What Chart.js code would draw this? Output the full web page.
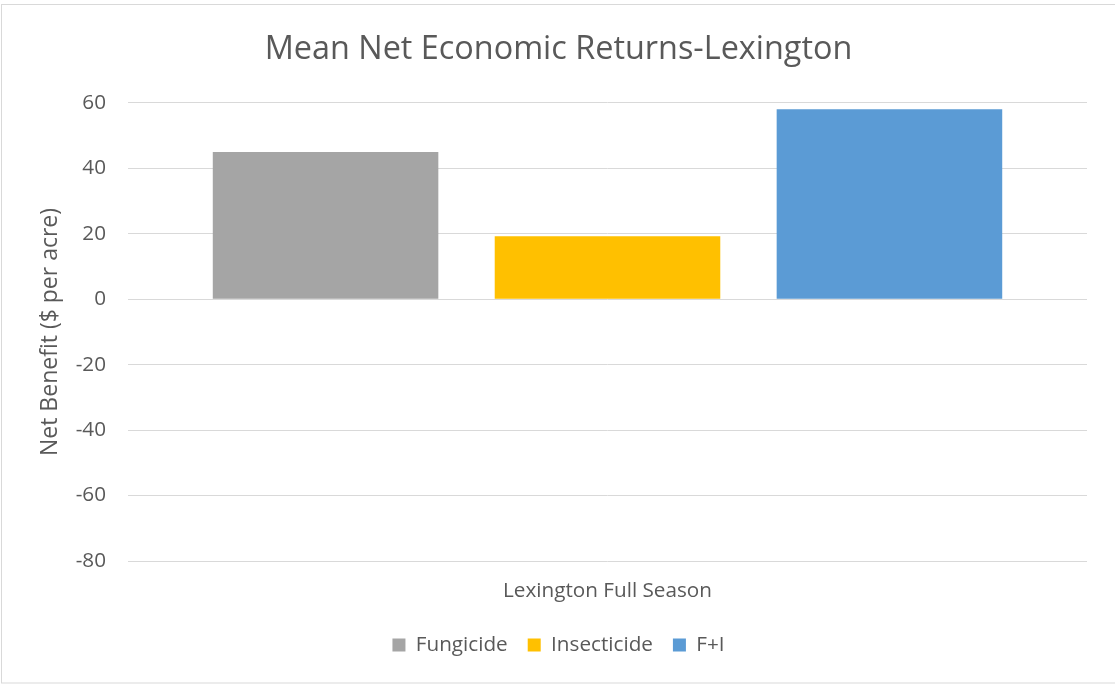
<!DOCTYPE html>
<html>
<head>
<meta charset="utf-8">
<script src="https://cdn.jsdelivr.net/npm/chart.js@4.4.1/dist/chart.umd.min.js"></script>
<style>
  html, body { margin: 0; padding: 0; background: #ffffff; }
  #wrap { position: relative; width: 1115px; height: 684px; }
  canvas { display: block; }
</style>
</head>
<body>
<div id="wrap"><canvas id="c" width="1115" height="684"></canvas></div>
<script>
const chartTitle = "Mean Net Economic Returns-Lexington";
const yAxisTitle = "Net Benefit ($ per acre)";
const categories = ["Lexington Full Season"];
const seriesNames = ["Fungicide", "Insecticide", "F+I"];
const fungicide = [45];
const insecticide = [19.3];
const fPlusI = [58.1];
const seriesColors = ["#A5A5A5", "#FFC000", "#5B9BD5"];
const yMin = -80, yMax = 60, yStep = 20;

const textColor = "#595959";
const gridColor = "#D9D9D9";
const fam = "'Open Sans', 'Noto Sans', sans-serif";

const borderPlugin = {
  id: 'outerBorder',
  beforeDraw(chart) {
    const ctx = chart.ctx;
    ctx.save();
    ctx.fillStyle = '#ffffff';
    ctx.fillRect(0, 0, chart.width, chart.height);
    ctx.strokeStyle = gridColor;
    ctx.lineWidth = 1;
    ctx.strokeRect(1.5, 4.5, 1120, 678.5);
    ctx.restore();
  }
};

new Chart(document.getElementById('c'), {
  type: 'bar',
  data: {
    labels: categories,
    datasets: [
      { label: seriesNames[0], data: fungicide, backgroundColor: seriesColors[0], borderWidth: 0 },
      { label: seriesNames[1], data: insecticide, backgroundColor: seriesColors[1], borderWidth: 0 },
      { label: seriesNames[2], data: fPlusI, backgroundColor: seriesColors[2], borderWidth: 0 }
    ]
  },
  options: {
    responsive: false,
    animation: false,
    devicePixelRatio: 1,
    categoryPercentage: 0.882,
    barPercentage: 0.8,
    layout: { padding: { left: 30, right: 28, top: 0, bottom: 18.7 } },
    plugins: {
      tooltip: { enabled: false },
      title: {
        display: true,
        text: chartTitle,
        color: textColor,
        font: { family: fam, size: 32.4, weight: 'normal' },
        padding: { top: 30, bottom: 34.1 }
      },
      legend: {
        display: true,
        position: 'bottom',
        labels: {
          color: textColor,
          font: { family: fam, size: 20.7 },
          boxWidth: 13,
          boxHeight: 13,
          padding: 20
        }
      }
    },
    scales: {
      x: {
        grid: { display: false, drawTicks: false },
        border: { display: false },
        ticks: { color: textColor, font: { family: fam, size: 20.7 }, padding: 17.6 },
        afterFit(scale) { scale.height = 53.6; }
      },
      y: {
        min: yMin,
        max: yMax,
        grid: { color: gridColor, lineWidth: 1, drawTicks: false },
        border: { display: false },
        ticks: { stepSize: yStep, color: textColor, font: { family: fam, size: 20.7 }, padding: 22 },
        title: {
          display: true,
          text: yAxisTitle,
          color: textColor,
          font: { family: fam, size: 23 },
          padding: { top: 7, bottom: 0 }
        },
        afterFit(scale) { scale.width = 98; }
      }
    }
  },
  plugins: [borderPlugin]
});
</script>
</body>
</html>
